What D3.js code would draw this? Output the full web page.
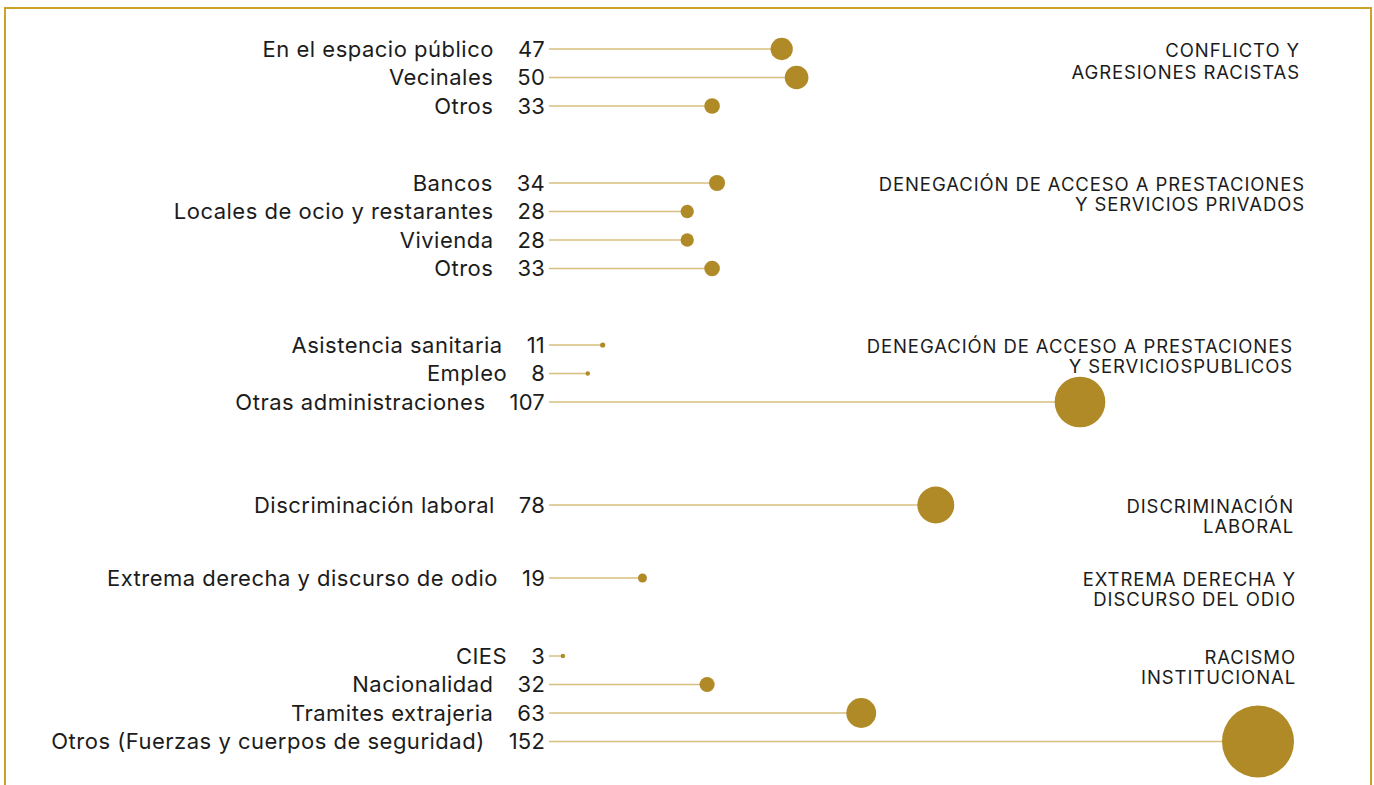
<!DOCTYPE html>
<html>
<head>
<meta charset="utf-8">
<script src="https://cdn.jsdelivr.net/npm/d3@7"></script>
<style>
  html, body { margin: 0; padding: 0; background: #fff; }
  svg text { font-family: Inter, "Noto Sans", sans-serif; fill: #1c1c1c; }
  .cat { font-size: 22px; letter-spacing: 0.5px; }
  .val { font-size: 22px; letter-spacing: 0.2px; }
  .title { font-size: 18.5px; letter-spacing: 0.9px; }
</style>
</head>
<body>
<div id="chart"></div>
<script>
// data
const groupTitles = [
  ["CONFLICTO  Y", "AGRESIONES RACISTAS"],
  ["DENEGACIÓN DE ACCESO A PRESTACIONES", "Y SERVICIOS PRIVADOS"],
  ["DENEGACIÓN DE ACCESO A PRESTACIONES", "Y SERVICIOSPUBLICOS"],
  ["DISCRIMINACIÓN", "LABORAL"],
  ["EXTREMA DERECHA Y", "DISCURSO DEL ODIO"],
  ["RACISMO", "INSTITUCIONAL"]
];
const categories = [
  "En el espacio público", "Vecinales", "Otros",
  "Bancos", "Locales de ocio y restarantes", "Vivienda", "Otros",
  "Asistencia sanitaria", "Empleo", "Otras administraciones",
  "Discriminación laboral",
  "Extrema derecha y discurso de odio",
  "CIES", "Nacionalidad", "Tramites extrajeria", "Otros (Fuerzas y cuerpos de seguridad)"
];
const values = [47, 50, 33, 34, 28, 28, 33, 11, 8, 107, 78, 19, 3, 32, 63, 152];
const groupOf = [0, 0, 0, 1, 1, 1, 1, 2, 2, 2, 3, 4, 5, 5, 5, 5];

// layout
const width = 1374, height = 785;
const groupTop = [49, 183, 345, 505, 578, 656];
const titleRight = [1300, 1305, 1293, 1294, 1296, 1296];
const rowStep = 28.5;
const valRight = 545, lineStart = 549, plotRight = 1294;
const dotColor = "#b08a26", stemColor = "#d8bf80";

const svg = d3.select("#chart").append("svg")
  .attr("width", width)
  .attr("height", height);

// frame
svg.append("rect")
  .attr("x", 5).attr("y", 8)
  .attr("width", 1366).attr("height", 800)
  .attr("fill", "none")
  .attr("stroke", "#c9a227")
  .attr("stroke-width", 2);

let x = d3.scaleLinear().domain([0, 107]).range([lineStart - 1, 1080]);
let r = d3.scaleLinear().domain([0, 152]).range([0, 36]);

// rank of each row inside its group
const rows = values.map((v, i) => {
  let k = 0;
  for (let j = 0; j < i; j++) if (groupOf[j] === groupOf[i]) k++;
  return {cat: categories[i], value: v, g: groupOf[i], y: groupTop[groupOf[i]] + k * rowStep};
});

let row = svg.selectAll("g.row")
  .data(rows)
  .enter()
  .append("g")
  .attr("class", "row")
  .attr("transform", d => "translate(0," + d.y + ")");

row.each(function (d) {
  let g = d3.select(this);
  let rad = Math.max(2.2, r(d.value));
  let cx = Math.min(x(d.value), plotRight - rad);//big ones are pulled inside the frame
  g.append("line")
    .attr("x1", lineStart)
    .attr("x2", cx)
    .attr("stroke", stemColor)
    .attr("stroke-width", 1.5);
  g.append("circle")
    .attr("cx", cx)
    .attr("r", rad)
    .attr("fill", dotColor);
  let num = g.append("text")
    .attr("class", "val")
    .attr("x", valRight)
    .attr("dy", "0.36em")
    .attr("text-anchor", "end")
    .text(d.value);
  let w = num.node().getComputedTextLength();
  g.append("text")
    .attr("class", "cat")
    .attr("x", valRight - w - 24)
    .attr("dy", "0.36em")
    .attr("text-anchor", "end")
    .text(d.cat);
});

// group titles on the right
groupTitles.forEach((lines, i) => {
  svg.append("text")
    .attr("class", "title")
    .attr("text-anchor", "end")
    .attr("transform", "translate(" + titleRight[i] + "," + (groupTop[i] + 1) + ")")
    .selectAll("tspan")
    .data(lines)
    .enter()
    .append("tspan")
    .attr("x", 0)
    .attr("y", (l, k) => k * (i === 0 ? 22 : 20.5))
    .attr("dy", "0.36em")
    .text(l => l);
});
</script>
</body>
</html>
